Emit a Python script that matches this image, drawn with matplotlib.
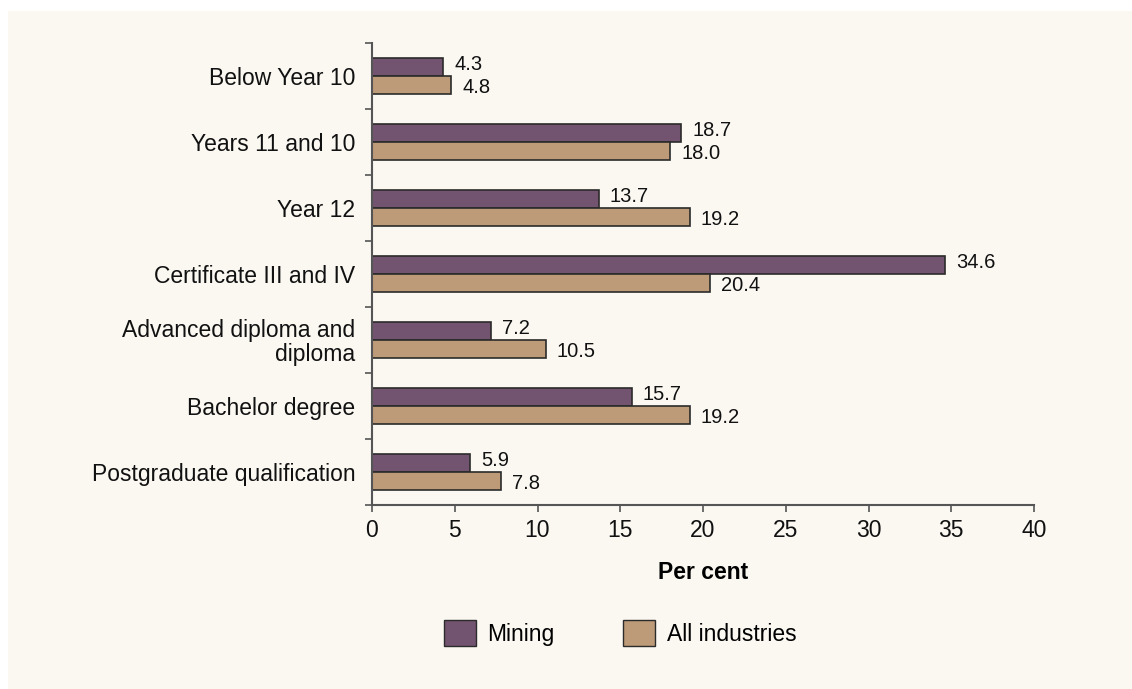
import numpy as np
import matplotlib.pyplot as plt
from matplotlib.patches import Patch
from matplotlib.ticker import FixedLocator

plt.rcParams['font.family'] = ['Liberation Sans', 'DejaVu Sans']

categories = ['Below Year 10', 'Years 11 and 10', 'Year 12', 'Certificate III and IV',
              'Advanced diploma and\ndiploma', 'Bachelor degree', 'Postgraduate qualification']
mining = [4.3, 18.7, 13.7, 34.6, 7.2, 15.7, 5.9]
all_industries = [4.8, 18.0, 19.2, 20.4, 10.5, 19.2, 7.8]

c_mining = '#735470'
c_all = '#bd9a78'
edge = '#2b2b2b'
bg = '#fbf8f2'
fs = 16.5

fig = plt.figure(figsize=(11.32, 6.89), dpi=100)
fig.patch.set_facecolor('white')
# cream panel behind everything
fig.patches.append(plt.Rectangle((8 / 1132, 0), 1, 1 - 11 / 689, transform=fig.transFigure,
                                 facecolor=bg, edgecolor='none', zorder=-10))

ax = fig.add_axes([372 / 1132, 1 - 505 / 689, (1034 - 372) / 1132, (505 - 43) / 689])
ax.set_facecolor(bg)

y = np.arange(len(categories))
h = 0.28
b1 = ax.barh(y - h / 2, mining, height=h, color=c_mining, edgecolor=edge, linewidth=1.2)
b2 = ax.barh(y + h / 2, all_industries, height=h, color=c_all, edgecolor=edge, linewidth=1.2)

# value labels; nudged apart a little so the pair doesn't collide
for bars, vals, dy in ((b1, mining, 1.5), (b2, all_industries, -1.5)):
    for bar, v in zip(bars, vals):
        ax.annotate(f'{v:.1f}', (v, bar.get_y() + bar.get_height() / 2),
                    xytext=(8, dy), textcoords='offset points',
                    va='center', ha='left', fontsize=14.5, color='#111111')

ax.set_ylim(len(categories) - 0.5, -0.5)
ax.set_xlim(0, 40)
ax.set_xticks(range(0, 41, 5))
ax.set_yticks(y)
ax.set_yticklabels(categories, fontsize=fs, color='#111111', linespacing=1.05)
ax.yaxis.set_minor_locator(FixedLocator(np.arange(-0.5, len(categories), 1)))
ax.tick_params(axis='y', which='major', length=0, pad=12)
ax.tick_params(axis='y', which='minor', length=5, width=1.2, color='#555555')
ax.tick_params(axis='x', length=5, width=1.2, color='#555555', labelsize=fs,
               labelcolor='#111111', pad=5)
for s in ('top', 'right'):
    ax.spines[s].set_visible(False)
for s in ('left', 'bottom'):
    ax.spines[s].set_color('#555555')
    ax.spines[s].set_linewidth(1.5)

ax.set_xlabel('Per cent', fontsize=fs, fontweight='bold', labelpad=14)

handles = [Patch(facecolor=c_mining, edgecolor=edge, label='Mining'),
           Patch(facecolor=c_all, edgecolor=edge, label='All industries')]
fig.legend(handles=handles, loc='center', bbox_to_anchor=(620 / 1132, 1 - 633 / 689),
           ncol=2, frameon=False, fontsize=fs, handlelength=1.4, handleheight=1.4,
           handletextpad=0.5, columnspacing=3.0)

fig.savefig('out.png', dpi=100, facecolor=fig.get_facecolor())
